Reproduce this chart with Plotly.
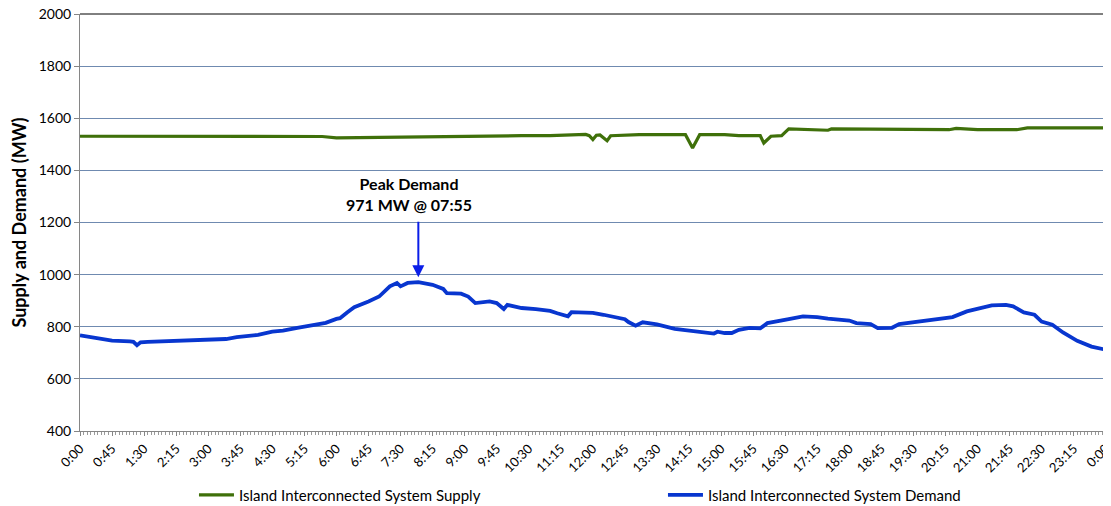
import plotly.graph_objects as go

# ---- data ----
tick_labels = ["0:00", "0:45", "1:30", "2:15", "3:00", "3:45", "4:30", "5:15", "6:00",
               "6:45", "7:30", "8:15", "9:00", "9:45", "10:30", "11:15", "12:00", "12:45",
               "13:30", "14:15", "15:00", "15:45", "16:30", "17:15", "18:00", "18:45",
               "19:30", "20:15", "21:00", "21:45", "22:30", "23:15", "0:00"]

demand_times = ["0:00", "0:25", "0:45", "1:10", "1:15", "1:20", "1:25", "1:35", "2:00", "2:30",
                "3:05", "3:25", "3:40", "4:10", "4:30", "4:45", "5:05", "5:25", "5:45", "6:00",
                "6:05", "6:15", "6:25", "6:45", "7:00", "7:15", "7:25", "7:30", "7:40", "7:55",
                "8:15", "8:30", "8:35", "8:55", "9:05", "9:15", "9:35", "9:45", "9:55", "10:00",
                "10:20", "10:40", "11:00", "11:10", "11:25", "11:30", "11:55", "12:00", "12:15",
                "12:30", "12:45", "12:50", "13:00", "13:10", "13:30", "13:55", "14:15", "14:35",
                "14:50", "14:55", "15:05", "15:15", "15:25", "15:40", "15:55", "16:05", "16:20",
                "16:35", "16:55", "17:15", "17:30", "18:00", "18:10", "18:30", "18:40", "19:00",
                "19:10", "19:30", "19:55", "20:25", "20:45", "21:05", "21:20", "21:40", "21:50",
                "22:05", "22:20", "22:30", "22:45", "23:00", "23:20", "23:40", "24:00"]
demand_mw = [767, 756, 747, 744, 742, 729, 740, 742, 745, 749,
             754, 753, 760, 769, 781, 785, 796, 804, 815, 830,
             833, 855, 875, 897, 916, 955, 968, 955, 968, 971,
             961, 945, 929, 927, 916, 891, 897, 891, 868, 884,
             872, 868, 861, 852, 840, 856, 855, 853, 846,
             836, 829, 818, 804, 817, 809, 792, 785, 781,
             774, 781, 776, 776, 788, 796, 794, 814, 823,
             829, 840, 837, 831, 824, 814, 810, 795, 796,
             810, 817, 823, 837, 859, 872, 882, 884, 878,
             855, 846, 820, 808, 778, 746, 724, 712]

supply_times = ["0:00", "5:40", "6:00", "6:30", "7:00", "7:45", "8:15", "9:00", "10:20", "11:00",
                "11:35", "11:50", "11:55", "12:00", "12:05", "12:10", "12:20", "12:25", "13:05",
                "14:10", "14:20", "14:30", "15:05", "15:25", "15:55", "16:00", "16:10", "16:25",
                "16:35", "17:00", "17:30", "17:35", "18:00", "20:20", "20:30", "21:00", "21:55",
                "22:10", "24:00"]
supply_mw = [1531, 1530, 1525, 1526, 1528, 1530, 1528, 1532, 1533, 1533,
             1535, 1538, 1533, 1518, 1535, 1536, 1514, 1533, 1537,
             1537, 1486, 1537, 1537, 1533, 1533, 1505, 1531, 1533,
             1559, 1556, 1554, 1559, 1559, 1556, 1561, 1556, 1556,
             1563, 1563]


def to_min(t):
    h, m = t.split(":")
    return int(h) * 60 + int(m)


dx = [to_min(t) for t in demand_times]
sx = [to_min(t) for t in supply_times]
tickvals = [i * 45 for i in range(len(tick_labels))]

peak_i = max(range(len(demand_mw)), key=lambda i: demand_mw[i])
peak_x, peak_y = dx[peak_i], demand_mw[peak_i]

FONT = "Lato, Open Sans, sans-serif"

fig = go.Figure()
fig.add_trace(go.Scatter(x=sx, y=supply_mw, mode="lines",
                         name="Island Interconnected System Supply",
                         line=dict(color="#3f700a", width=3.2)))
fig.add_trace(go.Scatter(x=dx, y=demand_mw, mode="lines",
                         name="Island Interconnected System Demand",
                         line=dict(color="#0836cf", width=3.8)))

fig.add_annotation(x=peak_x, y=peak_y, ax=0, ay=-62, text="", showarrow=True,
                   arrowhead=2, arrowsize=1.2, arrowwidth=2, arrowcolor="#0a1ee8",
                   standoff=5)
fig.add_annotation(x=peak_x, y=peak_y, text="<b>Peak Demand<br>971 MW @ 07:55</b>",
                   showarrow=False, xshift=-9, yshift=88,
                   font=dict(family=FONT, size=16, color="#000"))

# plot-area border (top and right)
fig.add_shape(type="line", xref="paper", yref="paper", x0=0, x1=1, y0=1, y1=1,
              line=dict(color="#000", width=1))
fig.add_shape(type="line", xref="paper", yref="paper", x0=1, x1=1, y0=0, y1=1,
              line=dict(color="#000", width=1))

fig.update_layout(
    width=1103, height=498,
    margin=dict(l=72, r=5, t=6, b=75, autoexpand=False),
    paper_bgcolor="white", plot_bgcolor="white",
    font=dict(family=FONT, color="#000"),
    showlegend=True,
    legend=dict(orientation="h", xref="container", yref="container",
                x=0.1686, y=0.022, xanchor="left", yanchor="middle",
                entrywidth=419, font=dict(size=15), itemwidth=35,
                bgcolor="rgba(0,0,0,0)"),
)
fig.update_xaxes(range=[0, 1440.4], tickvals=tickvals, ticktext=tick_labels,
                 tickangle=-45, tickfont=dict(size=13), showgrid=False,
                 ticklabeloverflow="allow",
                 showline=True, linecolor="#868686", linewidth=1,
                 ticks="outside", ticklen=4, tickcolor="#868686",
                 minor=dict(dtick=5, tick0=0, ticks="outside", ticklen=3, tickcolor="#9a9a9a"),
                 zeroline=False, automargin=False)
fig.update_yaxes(range=[400, 2000], dtick=200, tickfont=dict(size=14),
                 ticklabeloverflow="allow",
                 showgrid=True, gridcolor="#6f8ab0", gridwidth=1,
                 showline=True, linecolor="#868686", linewidth=1,
                 ticks="outside", ticklen=5, tickcolor="#868686",
                 title=dict(text="<b>Supply and Demand (MW)</b>", font=dict(size=18), standoff=8),
                 zeroline=False, automargin=False)

fig.write_html("out.html")
